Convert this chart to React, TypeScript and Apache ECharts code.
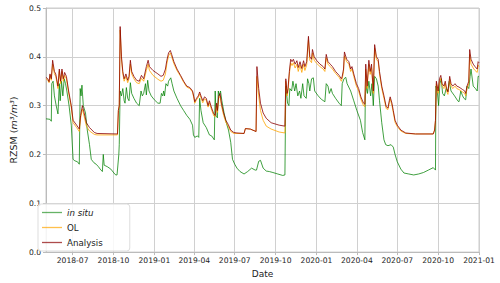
import React, { useEffect, useRef } from "react";
import * as echarts from "echarts";

// Shared sampling dates for the two model series (OL and Analysis)
const modelDates: string[] = [
  "2018-05-02","2018-05-06","2018-05-09","2018-05-11","2018-05-14","2018-05-17","2018-05-21","2018-05-24","2018-05-29","2018-06-01",
  "2018-06-04","2018-06-07","2018-06-10","2018-06-13","2018-06-17","2018-06-22","2018-06-28","2018-07-02","2018-07-10","2018-07-16",
  "2018-07-19","2018-07-23","2018-07-27","2018-08-01","2018-08-08","2018-08-19","2018-08-25","2018-10-10","2018-10-12","2018-10-14",
  "2018-10-16","2018-10-19","2018-10-22","2018-10-25","2018-10-29","2018-11-02","2018-11-05","2018-11-08","2018-11-11","2018-11-16",
  "2018-11-22","2018-11-28","2018-12-03","2018-12-08","2018-12-14","2018-12-18","2018-12-21","2018-12-29","2019-01-09","2019-01-16",
  "2019-01-21","2019-01-26","2019-01-29","2019-02-02","2019-02-06","2019-02-09","2019-02-14","2019-02-21","2019-03-01","2019-03-08",
  "2019-03-15","2019-03-22","2019-03-28","2019-03-31","2019-04-02","2019-04-06","2019-04-10","2019-04-13","2019-04-16","2019-04-20",
  "2019-04-24","2019-04-28","2019-05-02","2019-05-05","2019-05-10","2019-05-15","2019-05-18","2019-05-21","2019-05-23","2019-05-26",
  "2019-05-29","2019-06-01","2019-06-06","2019-06-11","2019-06-16","2019-06-22","2019-06-29","2019-07-06","2019-07-22","2019-07-25",
  "2019-08-05","2019-08-18","2019-08-20","2019-08-24","2019-08-28","2019-09-03","2019-09-10","2019-09-21","2019-10-09","2019-10-22",
  "2019-10-24","2019-10-27","2019-10-29","2019-11-01","2019-11-04","2019-11-07","2019-11-10","2019-11-14","2019-11-18","2019-11-21",
  "2019-11-25","2019-11-29","2019-12-03","2019-12-06","2019-12-10","2019-12-14","2019-12-17","2019-12-21","2019-12-23","2019-12-27",
  "2020-01-01","2020-01-09","2020-01-16","2020-01-20","2020-01-23","2020-01-27","2020-02-01","2020-02-06","2020-02-13","2020-02-21",
  "2020-02-26","2020-02-28","2020-03-02","2020-03-04","2020-03-09","2020-03-14","2020-03-18","2020-03-21","2020-03-25","2020-03-31",
  "2020-04-05","2020-04-10","2020-04-16","2020-04-19","2020-04-21","2020-04-24","2020-04-28","2020-05-01","2020-05-04","2020-05-08",
  "2020-05-11","2020-05-15","2020-05-19","2020-05-22","2020-05-27","2020-06-01","2020-06-06","2020-06-10","2020-06-13","2020-06-15",
  "2020-06-19","2020-06-22","2020-06-26","2020-07-01","2020-07-09","2020-07-20","2020-08-11","2020-09-20","2020-09-23","2020-09-25",
  "2020-09-27","2020-10-01","2020-10-04","2020-10-07","2020-10-10","2020-10-14","2020-10-17","2020-10-20","2020-10-23","2020-10-27",
  "2020-10-30","2020-11-03","2020-11-08","2020-11-12","2020-11-17","2020-11-25","2020-11-30","2020-12-02","2020-12-05","2020-12-09",
  "2020-12-11","2020-12-14","2020-12-19","2020-12-23","2020-12-28","2020-12-30","2021-01-01"
];

const analysisValues: number[] = [
  0.358,0.355,0.349,0.365,0.355,0.393,0.37,0.365,0.34,0.375,
  0.35,0.375,0.355,0.368,0.36,0.33,0.30,0.27,0.26,0.252,
  0.28,0.30,0.285,0.265,0.255,0.245,0.243,0.242,0.29,0.30,
  0.462,0.40,0.37,0.355,0.365,0.352,0.36,0.393,0.37,0.36,
  0.352,0.35,0.362,0.355,0.38,0.393,0.38,0.372,0.365,0.36,
  0.362,0.375,0.392,0.408,0.413,0.405,0.39,0.375,0.362,0.35,
  0.34,0.337,0.33,0.318,0.308,0.315,0.32,0.328,0.32,0.31,
  0.318,0.315,0.30,0.31,0.295,0.283,0.28,0.305,0.29,0.32,
  0.325,0.305,0.285,0.27,0.262,0.25,0.245,0.244,0.243,0.253,
  0.252,0.247,0.38,0.335,0.305,0.285,0.274,0.265,0.26,0.258,
  0.355,0.325,0.335,0.37,0.395,0.39,0.395,0.385,0.392,0.378,
  0.39,0.376,0.392,0.38,0.39,0.442,0.40,0.395,0.415,0.40,
  0.393,0.385,0.38,0.375,0.405,0.39,0.385,0.38,0.37,0.362,
  0.355,0.36,0.375,0.41,0.395,0.39,0.375,0.38,0.365,0.345,
  0.335,0.318,0.305,0.303,0.385,0.34,0.393,0.37,0.385,0.33,
  0.425,0.40,0.395,0.37,0.34,0.32,0.298,0.295,0.31,0.318,
  0.305,0.29,0.27,0.26,0.25,0.244,0.242,0.242,0.25,0.27,
  0.35,0.33,0.355,0.362,0.345,0.34,0.35,0.335,0.328,0.36,
  0.345,0.34,0.345,0.34,0.338,0.333,0.33,0.325,0.34,0.35,
  0.415,0.395,0.385,0.38,0.375,0.39,0.388
];

const olValues: number[] = [
  0.355,0.352,0.347,0.362,0.352,0.385,0.365,0.36,0.335,0.37,
  0.345,0.37,0.35,0.362,0.355,0.326,0.296,0.265,0.255,0.247,
  0.275,0.293,0.278,0.258,0.248,0.241,0.24,0.24,0.29,0.30,
  0.455,0.395,0.365,0.35,0.36,0.347,0.355,0.385,0.365,0.355,
  0.347,0.345,0.356,0.35,0.372,0.385,0.372,0.362,0.354,0.35,
  0.352,0.365,0.385,0.402,0.408,0.40,0.386,0.372,0.36,0.348,
  0.338,0.335,0.328,0.315,0.305,0.312,0.317,0.324,0.316,0.306,
  0.314,0.311,0.297,0.306,0.291,0.279,0.277,0.30,0.286,0.315,
  0.32,0.30,0.28,0.266,0.258,0.247,0.243,0.243,0.243,0.253,
  0.252,0.247,0.36,0.32,0.29,0.27,0.258,0.252,0.246,0.244,
  0.35,0.32,0.33,0.365,0.388,0.382,0.388,0.377,0.385,0.37,
  0.383,0.368,0.385,0.372,0.383,0.435,0.393,0.388,0.408,0.393,
  0.387,0.38,0.375,0.37,0.398,0.385,0.38,0.375,0.366,0.358,
  0.35,0.355,0.37,0.402,0.39,0.385,0.37,0.375,0.36,0.34,
  0.33,0.313,0.30,0.298,0.375,0.335,0.385,0.364,0.378,0.325,
  0.418,0.395,0.39,0.365,0.335,0.315,0.294,0.292,0.306,0.314,
  0.30,0.286,0.266,0.257,0.248,0.243,0.242,0.242,0.25,0.27,
  0.345,0.325,0.35,0.356,0.34,0.335,0.345,0.33,0.323,0.354,
  0.34,0.335,0.34,0.335,0.333,0.328,0.325,0.32,0.335,0.345,
  0.405,0.385,0.377,0.372,0.368,0.383,0.38
];

const inSituDates: string[] = [
  "2018-05-02","2018-05-11","2018-05-14","2018-05-15","2018-05-18","2018-05-21","2018-05-25","2018-05-29","2018-06-01","2018-06-03",
  "2018-06-06","2018-06-09","2018-06-12","2018-06-15","2018-06-18","2018-06-23","2018-06-28","2018-07-02","2018-07-06","2018-07-12",
  "2018-07-16","2018-07-18","2018-07-20","2018-07-22","2018-07-25","2018-07-30","2018-08-03","2018-08-08","2018-08-12","2018-08-18",
  "2018-08-23","2018-08-28","2018-09-01","2018-09-06","2018-09-08","2018-09-10","2018-09-17","2018-09-25","2018-10-02","2018-10-06",
  "2018-10-09","2018-10-13","2018-10-14","2018-10-16","2018-10-19","2018-10-22","2018-10-25","2018-10-27","2018-10-30","2018-11-02",
  "2018-11-05","2018-11-08","2018-11-11","2018-11-16","2018-11-22","2018-11-28","2018-12-02","2018-12-05","2018-12-08","2018-12-12",
  "2018-12-14","2018-12-17","2018-12-20","2018-12-25","2019-01-01","2019-01-09","2019-01-14","2019-01-17","2019-01-20","2019-01-22",
  "2019-01-24","2019-01-27","2019-01-31","2019-02-02","2019-02-07","2019-02-10","2019-02-14","2019-02-21","2019-03-01","2019-03-08",
  "2019-03-15","2019-03-22","2019-03-28","2019-03-30","2019-04-02","2019-04-08","2019-04-11","2019-04-13","2019-04-16","2019-04-21",
  "2019-04-28","2019-05-05","2019-05-10","2019-05-16","2019-05-18","2019-05-20","2019-05-23","2019-05-25","2019-05-27","2019-05-30",
  "2019-06-02","2019-06-07","2019-06-12","2019-06-17","2019-06-22","2019-06-26","2019-07-01","2019-07-06","2019-07-13","2019-07-22",
  "2019-07-30","2019-08-08","2019-08-16","2019-08-19","2019-08-24","2019-08-28","2019-09-03","2019-09-10","2019-09-17","2019-09-25",
  "2019-10-06","2019-10-17","2019-10-22","2019-10-24","2019-10-28","2019-10-31","2019-11-02","2019-11-06","2019-11-09","2019-11-13",
  "2019-11-16","2019-11-20","2019-11-24","2019-11-27","2019-12-01","2019-12-04","2019-12-09","2019-12-12","2019-12-15","2019-12-17",
  "2019-12-21","2019-12-25","2019-12-28","2020-01-05","2020-01-12","2020-01-20","2020-01-23","2020-01-27","2020-01-30","2020-02-03",
  "2020-02-06","2020-02-13","2020-02-21","2020-02-26","2020-02-28","2020-03-03","2020-03-07","2020-03-10","2020-03-18","2020-03-25",
  "2020-04-01","2020-04-09","2020-04-14","2020-04-19","2020-04-20","2020-04-23","2020-04-25","2020-04-28","2020-05-02","2020-05-05",
  "2020-05-08","2020-05-11","2020-05-15","2020-05-19","2020-05-22","2020-05-27","2020-06-01","2020-06-05","2020-06-10","2020-06-17",
  "2020-06-22","2020-06-26","2020-07-01","2020-07-09","2020-07-16","2020-07-27","2020-08-07","2020-08-18","2020-08-29","2020-09-09",
  "2020-09-20","2020-09-23","2020-09-25","2020-09-26","2020-09-29","2020-10-02","2020-10-05","2020-10-08","2020-10-11","2020-10-15",
  "2020-10-19","2020-10-23","2020-10-26","2020-10-30","2020-11-07","2020-11-14","2020-11-17","2020-11-21","2020-11-25","2020-11-28",
  "2020-12-02","2020-12-05","2020-12-09","2020-12-12","2020-12-14","2020-12-19","2020-12-24","2020-12-28","2020-12-30","2021-01-01"
];

const inSituValues: number[] = [
  0.273,0.272,0.268,0.345,0.35,0.32,0.30,0.283,0.345,0.31,
  0.35,0.32,0.355,0.345,0.33,0.30,0.26,0.19,0.187,0.185,
  0.18,0.335,0.32,0.342,0.30,0.285,0.25,0.22,0.19,0.183,
  0.18,0.175,0.17,0.165,0.20,0.178,0.175,0.17,0.162,0.158,
  0.158,0.20,0.22,0.33,0.32,0.335,0.31,0.305,0.337,0.315,
  0.31,0.347,0.325,0.315,0.305,0.30,0.33,0.32,0.325,0.345,
  0.322,0.352,0.33,0.32,0.312,0.305,0.305,0.325,0.32,0.33,
  0.32,0.345,0.34,0.35,0.357,0.345,0.33,0.315,0.30,0.29,
  0.28,0.272,0.26,0.24,0.235,0.238,0.235,0.315,0.29,0.265,
  0.255,0.24,0.238,0.23,0.33,0.28,0.275,0.33,0.32,0.33,
  0.31,0.285,0.265,0.25,0.225,0.19,0.18,0.172,0.165,0.16,
  0.165,0.172,0.168,0.168,0.186,0.188,0.172,0.166,0.165,0.163,
  0.16,0.157,0.158,0.34,0.305,0.30,0.335,0.33,0.35,0.33,
  0.345,0.32,0.33,0.315,0.345,0.32,0.315,0.355,0.345,0.33,
  0.355,0.357,0.33,0.32,0.313,0.308,0.345,0.34,0.325,0.335,
  0.325,0.315,0.305,0.30,0.345,0.355,0.358,0.345,0.33,0.31,
  0.29,0.27,0.245,0.23,0.32,0.34,0.325,0.35,0.32,0.345,
  0.30,0.36,0.355,0.34,0.31,0.265,0.23,0.22,0.218,0.22,
  0.215,0.20,0.185,0.17,0.162,0.16,0.158,0.16,0.163,0.168,
  0.173,0.17,0.168,0.34,0.33,0.30,0.345,0.355,0.325,0.32,
  0.335,0.33,0.35,0.33,0.32,0.31,0.308,0.33,0.32,0.315,
  0.312,0.34,0.335,0.36,0.375,0.34,0.335,0.33,0.36,0.36
];

const xTickDates: string[] = [
  "2018-07-01","2018-10-01","2019-01-01","2019-04-01","2019-07-01","2019-10-01",
  "2020-01-01","2020-04-01","2020-07-01","2020-10-01","2021-01-01"
];

const yTicks: number[] = [0, 0.1, 0.2, 0.3, 0.4, 0.5];

const toTs = (s: string) => new Date(s + "T00:00:00").getTime();
const zip = (d: string[], v: number[]) => d.map((s, i) => [toTs(s), v[i]]);

const FONT = "DejaVu Sans";

export default function App() {
  const ref = useRef<HTMLDivElement>(null);
  useEffect(() => {
    if (!ref.current) return;
    const chart = echarts.init(ref.current, undefined, { renderer: "svg" });
    const tickTs = xTickDates.map(toTs);
    chart.setOption({
      animation: false,
      grid: {
        left: 33.5,
        right: 21,
        top: 8,
        bottom: 27,
        show: true,
        borderColor: "#cccccc",
        borderWidth: 1,
      },
      legend: {
        orient: "vertical",
        left: 38,
        top: 204,
        data: ["in situ", "OL", "Analysis"],
        icon: "rect",
        itemWidth: 20,
        itemHeight: 1.3,
        itemGap: 4,
        padding: [3, 27, 3, 4],
        backgroundColor: "rgba(255,255,255,0.85)",
        borderColor: "#dddddd",
        borderWidth: 1,
        borderRadius: 3,
        textStyle: {
          fontFamily: FONT,
          fontSize: 8.7,
          lineHeight: 11,
          color: "#222",
          rich: { i: { fontStyle: "italic", fontFamily: FONT, fontSize: 8.7, lineHeight: 11, color: "#222" } },
        },
        formatter: (name: string) => (name === "in situ" ? "{i|in situ}" : name),
      },
      xAxis: {
        type: "value",
        min: toTs("2018-05-02"),
        max: toTs("2021-01-01"),
        name: "Date",
        nameLocation: "middle",
        nameGap: 13,
        nameTextStyle: { fontFamily: FONT, fontSize: 9, color: "#222" },
        axisLine: { show: true, lineStyle: { color: "#bbbbbb" } },
        axisTick: { show: true, length: 3, lineStyle: { color: "#bbbbbb" }, customValues: tickTs },
        axisLabel: {
          customValues: tickTs,
          margin: 4,
          fontFamily: FONT,
          fontSize: 7.6,
          color: "#222",
          hideOverlap: false,
          showMinLabel: true,
          showMaxLabel: true,
          formatter: (val: number) => {
            const d = new Date(val);
            return `${d.getFullYear()}-${String(d.getMonth() + 1).padStart(2, "0")}`;
          },
        },
        splitLine: { show: true, lineStyle: { color: "#d0d0d0", width: 1 } },
      },
      yAxis: {
        type: "value",
        min: yTicks[0],
        max: yTicks[yTicks.length - 1],
        interval: 0.1,
        name: "{r|RZSM (}{i|m³/m³}{r|)}",
        nameLocation: "middle",
        nameGap: 17,
        nameTextStyle: {
          fontFamily: FONT,
          fontSize: 9.5,
          color: "#222",
          rich: {
            r: { fontFamily: FONT, fontSize: 9.5, color: "#222" },
            i: { fontStyle: "italic", fontFamily: FONT, fontSize: 9.5, color: "#222" },
          },
        },
        axisLine: { show: true, lineStyle: { color: "#bbbbbb" } },
        axisTick: { show: true, length: 3, lineStyle: { color: "#bbbbbb" } },
        axisLabel: {
          margin: 5,
          fontFamily: FONT,
          fontSize: 7.6,
          color: "#222",
          formatter: (v: number) => v.toFixed(1),
        },
        splitLine: { show: true, lineStyle: { color: "#d0d0d0", width: 1 } },
      },
      series: [
        {
          name: "in situ",
          type: "line",
          data: zip(inSituDates, inSituValues),
          symbol: "none",
          lineStyle: { color: "#008000", width: 1, opacity: 0.75 },
          itemStyle: { color: "rgba(0,128,0,0.6)" },
          z: 2,
        },
        {
          name: "OL",
          type: "line",
          data: zip(modelDates, olValues),
          symbol: "none",
          lineStyle: { color: "#FFA500", width: 1, opacity: 0.8 },
          itemStyle: { color: "rgba(255,165,0,0.7)" },
          z: 3,
        },
        {
          name: "Analysis",
          type: "line",
          data: zip(modelDates, analysisValues),
          symbol: "none",
          lineStyle: { color: "#8B0000", width: 1, opacity: 0.8 },
          itemStyle: { color: "rgba(139,0,0,0.7)" },
          z: 4,
        },
      ],
    });
    return () => chart.dispose();
  }, []);
  return <div ref={ref} style={{ width: 500, height: 283, position: "absolute", left: 0, top: 0 }} />;
}
